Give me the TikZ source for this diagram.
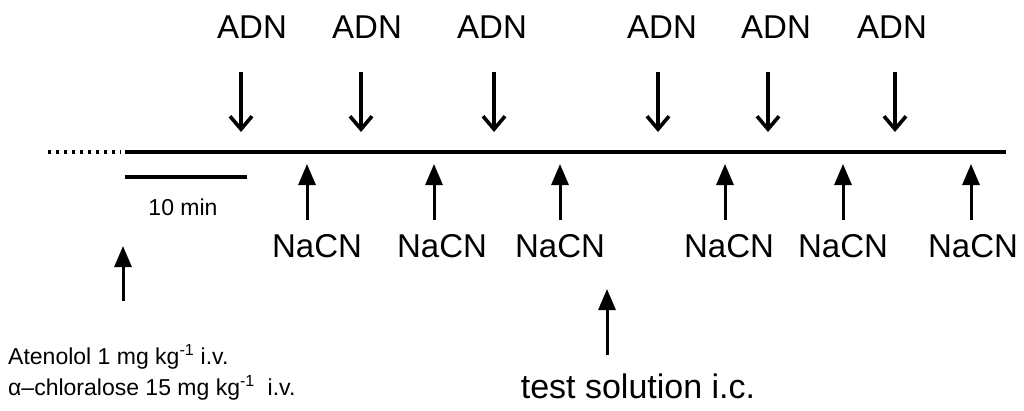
\documentclass[tikz,border=0pt]{standalone}
\usepackage{fontspec}
\setmainfont{Liberation Sans}
\usetikzlibrary{arrows.meta}
\begin{document}
\begin{tikzpicture}[x=1pt,y=-1pt,
  big/.style={font=\fontsize{33}{36}\selectfont, inner sep=0pt},
  small/.style={font=\fontsize{23}{31}\selectfont, inner sep=0pt},
  adnarrow/.style={line width=3.4pt, -{Straight Barb[length=13pt,width=22pt,line width=3.6pt]}},
  cnarrow/.style={line width=3pt, -{Triangle[length=21pt,width=17pt]}},
  axis/.style={line width=3.6pt}]
\useasboundingbox (0,0) rectangle (1024,410);

% time axis with dotted lead-in and scale bar
\coordinate (d0) at (48,152);
\coordinate (d1) at (121,152);
\coordinate (t0) at (125,152);
\coordinate (t1) at (1006,152);
\draw[line width=3.4pt, dash pattern=on 3pt off 5pt] (d0) -- (d1);
\draw[axis] (t0) -- (t1);
\coordinate (s0) at (125,177);
\coordinate (s1) at (247,177);
\draw[line width=3.6pt] (s0) -- (s1);
\node[small] (scale) at (183,207) {10 min};

% adenosine injections (down arrows)
\foreach \i/\ax/\lx in {1/241/252, 2/361/367, 3/494/492, 4/658/662, 5/768/776, 6/895/892}{
  \node[big] (adn\i) at (\lx,27) {ADN};
  \coordinate (adnS\i) at (\ax,72);
  \coordinate (adnE\i) at (\ax,132);
  \draw[adnarrow] (adnS\i) -- (adnE\i);
}

% cyanide injections (up arrows)
\foreach \i/\ax/\lx in {1/307/317, 2/434/442, 3/560/560, 4/725/729, 5/843/843, 6/971/973}{
  \node[big] (cn\i) at (\lx,246) {NaCN};
  \coordinate (cnS\i) at (\ax,220);
  \coordinate (cnE\i) at (\ax,164);
  \draw[cnarrow] (cnS\i) -- (cnE\i);
}

% pretreatment
\coordinate (atS) at (123,301);
\coordinate (atE) at (123,246);
\draw[cnarrow] (atS) -- (atE);
\node[small, anchor=west, align=left] (pre) at (8,372)
  {Atenolol 1 mg kg\textsuperscript{-1} i.v.\\
   α–chloralose 15 mg kg\textsuperscript{-1}\ \ i.v.};

% test solution
\coordinate (tsS) at (607,355);
\coordinate (tsE) at (607,289);
\draw[cnarrow] (tsS) -- (tsE);
\node[big, font=\fontsize{34}{36}\selectfont] (test) at (638,386) {test solution i.c.};
\end{tikzpicture}
\end{document}
